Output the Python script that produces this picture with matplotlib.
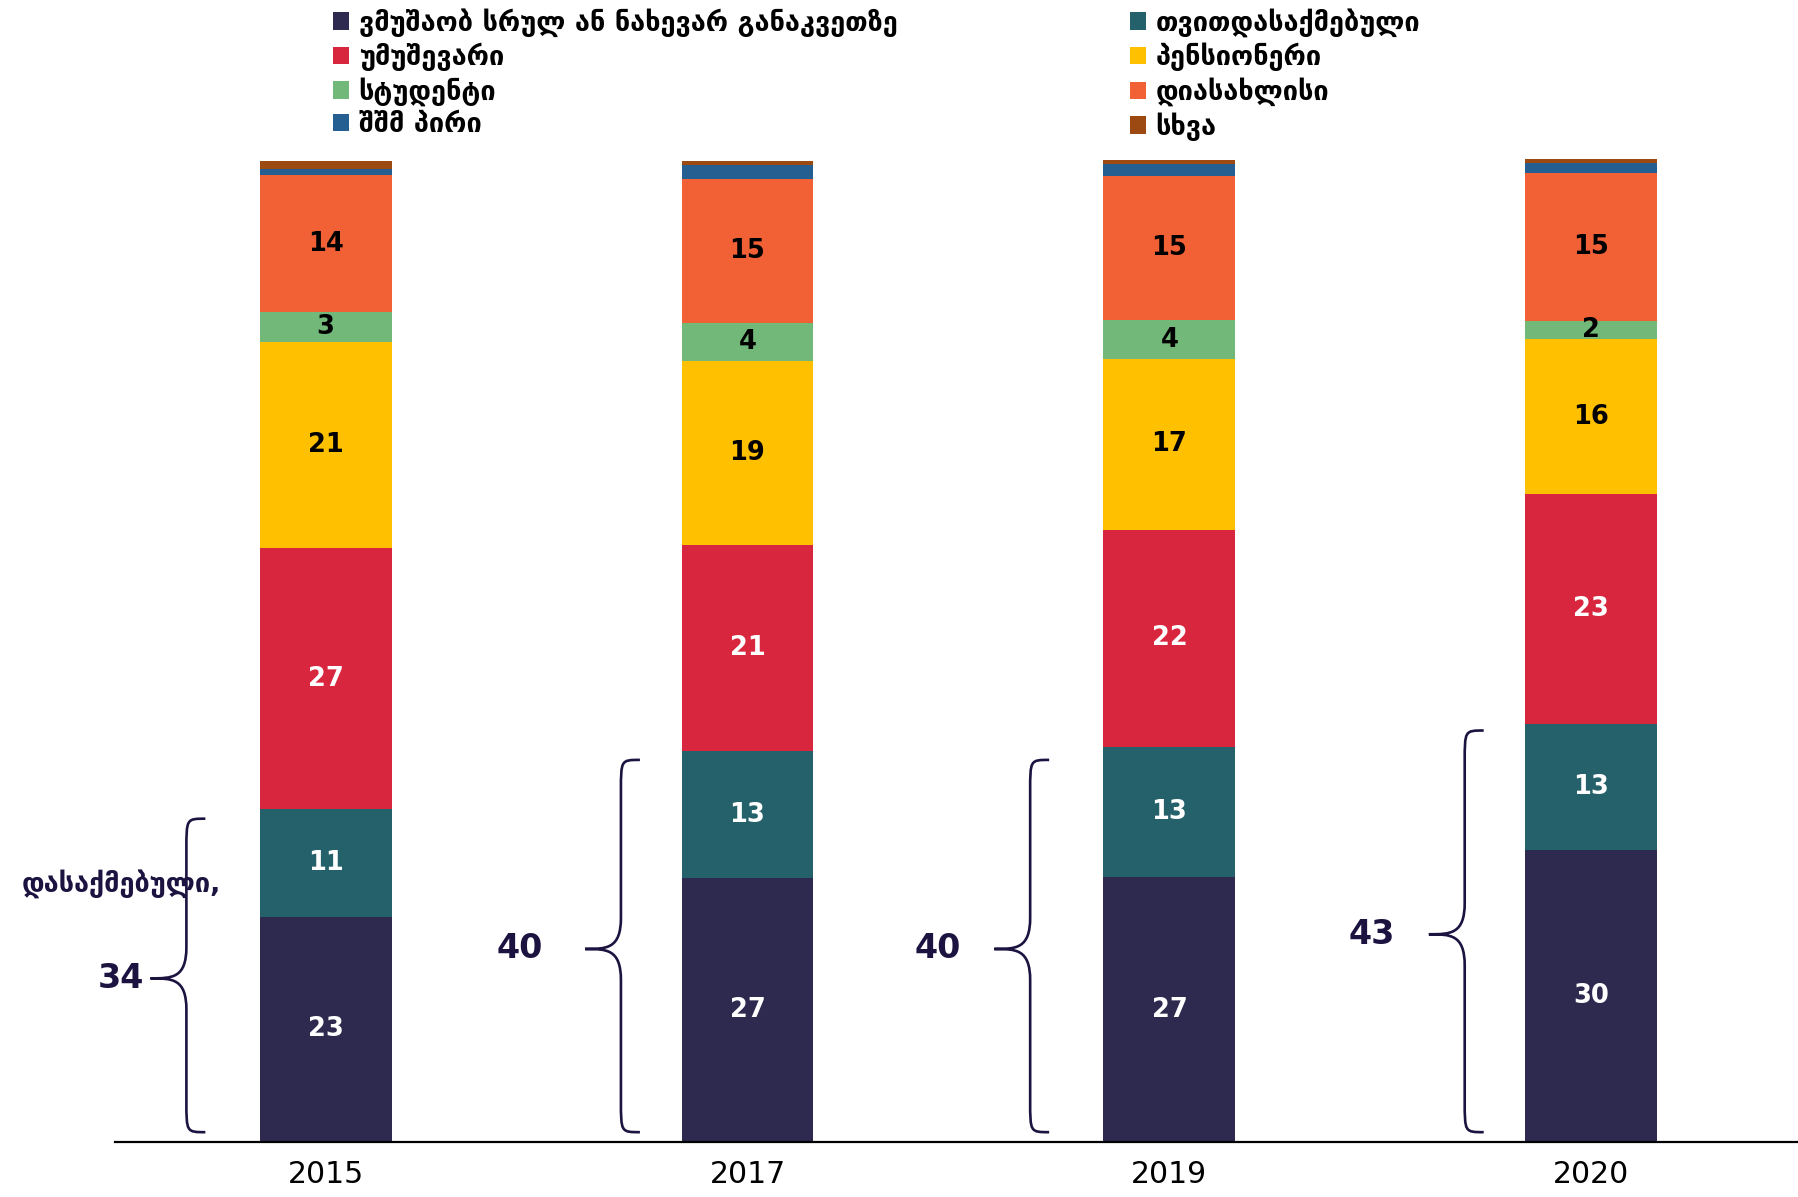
import matplotlib
matplotlib.use("Agg")
import matplotlib.pyplot as plt
from matplotlib.path import Path
from matplotlib.patches import PathPatch, Patch
import numpy as np

plt.rcParams['font.family'] = ['DejaVu Sans']

years = ["2015", "2017", "2019", "2020"]
categories = [
    "ვმუშაობ სრულ ან ნახევარ განაკვეთზე",
    "თვითდასაქმებული",
    "უმუშევარი",
    "პენსიონერი",
    "სტუდენტი",
    "დიასახლისი",
    "შშმ პირი",
    "სხვა",
]
employed = [23.0, 26.9, 27.0, 29.8]
self_employed = [11.0, 13.0, 13.3, 12.9]
unemployed = [26.6, 21.0, 22.2, 23.4]
pensioner = [21.1, 18.8, 17.4, 15.9]
student = [3.0, 3.9, 4.0, 1.8]
housewife = [14.0, 14.7, 14.7, 15.1]
disabled = [0.6, 1.4, 1.2, 1.0]
other = [0.8, 0.4, 0.4, 0.4]
employed_total = [34, 40, 40, 43]
bracket_caption = "დასაქმებული,"

series = [employed, self_employed, unemployed, pensioner, student, housewife, disabled, other]
colors = ["#2E2A4F", "#24616B", "#D9263F", "#FFC000", "#71B879", "#F26035", "#255E91", "#9C4A12"]
label_colors = ["white", "white", "white", "black", "black", "black", None, None]

fig = plt.figure(figsize=(17.98, 11.97), dpi=100)
ax = fig.add_axes([100 / 1568, 1 - 996 / 1044, 1 - 100 / 1568, (996 - 139) / 1044])

x = np.arange(len(years))
width = 0.3125
bottom = np.zeros(len(years))
handles = []
for vals, col, lc, name in zip(series, colors, label_colors, categories):
    v = np.array(vals)
    ax.bar(x, v, width, bottom=bottom, color=col, edgecolor='none', linewidth=0)
    if lc is not None:
        for xi, b, val in zip(x, bottom, v):
            ax.text(xi, b + val / 2, f"{int(round(val))}", ha='center', va='center',
                    color=lc, fontsize=18.5, fontweight='bold')
    handles.append(Patch(facecolor=col, edgecolor='none', label=name))
    bottom += v

ax.set_xlim(-0.5, 3.49)
ax.set_ylim(0, 100.3)
ax.set_xticks(x)
ax.set_xticklabels(years, fontsize=21.5)
ax.tick_params(axis='x', length=0, pad=13)
ax.set_yticks([])
for s in ['left', 'right', 'top']:
    ax.spines[s].set_visible(False)
ax.spines['bottom'].set_linewidth(1.6)
ax.spines['bottom'].set_color('black')

brace_color = "#1C1340"
spine_offsets = [-0.33, -0.30, -0.33, -0.30]
label_offsets = [-0.485, -0.541, -0.55, -0.52]
for xi, tot, so, lo in zip(x, employed_total, spine_offsets, label_offsets):
    xs = xi + so
    d = 0.045
    t = 0.085
    y0, y1, ym = 1.0, tot - 1.0, tot / 2.0 - 0.3
    r = 3.2
    verts = [
        (xs + d, y1),
        (xs, y1), (xs, y1), (xs, y1 - r),
        (xs, ym + r),
        (xs, ym), (xs - t * 0.4, ym), (xs - t, ym),
        (xs - t * 0.4, ym), (xs, ym), (xs, ym - r),
        (xs, y0 + r),
        (xs, y0), (xs, y0), (xs + d, y0),
    ]
    codes = [Path.MOVETO,
             Path.CURVE4, Path.CURVE4, Path.CURVE4,
             Path.LINETO,
             Path.CURVE4, Path.CURVE4, Path.CURVE4,
             Path.CURVE4, Path.CURVE4, Path.CURVE4,
             Path.LINETO,
             Path.CURVE4, Path.CURVE4, Path.CURVE4]
    ax.add_patch(PathPatch(Path(verts, codes), facecolor='none', edgecolor=brace_color,
                           linewidth=1.9, clip_on=False))
    ax.text(xi + lo, ym, str(tot), ha='center', va='center', fontsize=24,
            fontweight='bold', color=brace_color)

ax.text(x[0] - 0.485, 26.4, bracket_caption, ha='center', va='center', fontsize=19.5,
        fontweight='bold', color=brace_color)

order1 = [0, 2, 4, 6]
order2 = [1, 3, 5, 7]
common = dict(frameon=False, prop={'size': 19.5, 'weight': 'bold'}, borderpad=0, borderaxespad=0,
              handlelength=0.6, handleheight=0.6, handletextpad=0.35, labelspacing=0.22,
              loc='upper left')
leg1 = fig.legend([handles[i] for i in order1], [categories[i] for i in order1],
                  bbox_to_anchor=(333 / 1798, 1 - 8 / 1197), **common)
leg2 = fig.legend([handles[i] for i in order2], [categories[i] for i in order2],
                  bbox_to_anchor=(1130 / 1798, 1 - 8 / 1197), **common)

fig.savefig("out.png", dpi=100)
